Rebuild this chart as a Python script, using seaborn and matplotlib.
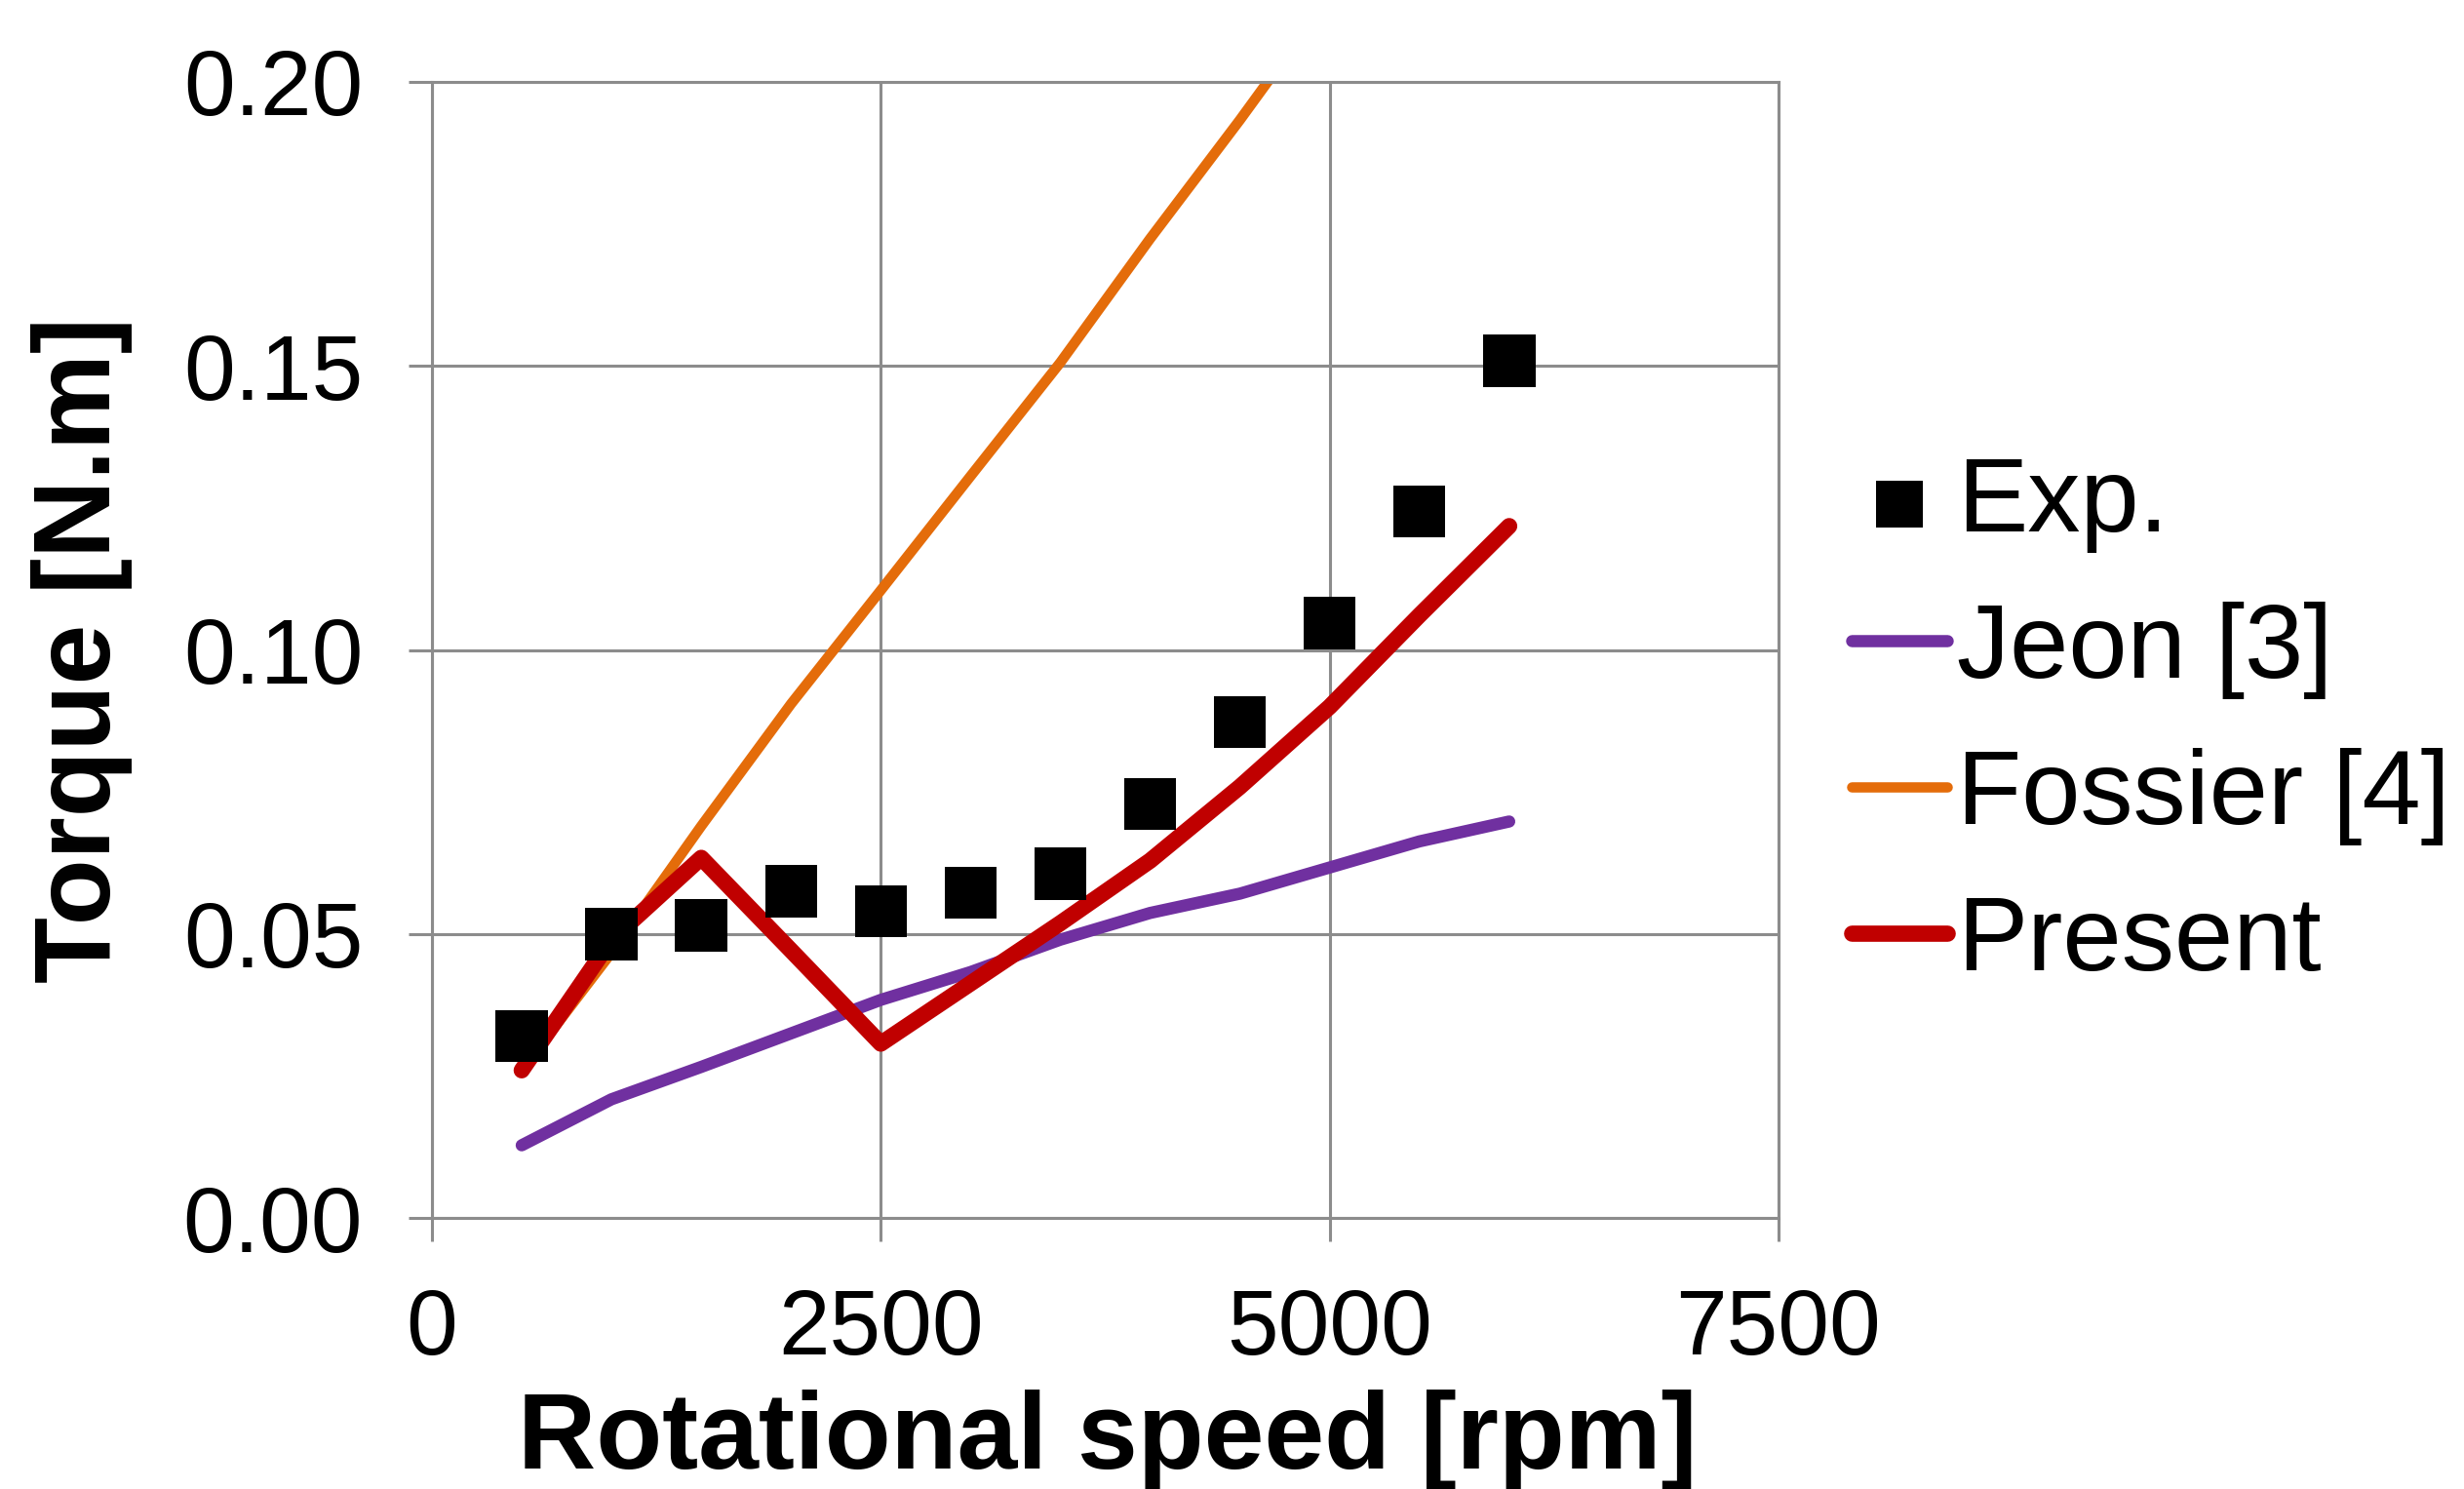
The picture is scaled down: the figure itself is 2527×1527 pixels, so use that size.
import matplotlib
matplotlib.use("Agg")
import matplotlib.pyplot as plt
import seaborn as sns

# values
rpm = [500, 1000, 1500, 2000, 2500, 3000, 3500, 4000, 4500, 5000, 5500, 6000]
exp_torque = [0.032, 0.050, 0.0515, 0.0575, 0.054, 0.0573, 0.0606, 0.0729, 0.0873, 0.1047, 0.1244, 0.1509]
jeon_torque = [0.0128, 0.0209, 0.0266, 0.0325, 0.0384, 0.0433, 0.0490, 0.0537, 0.0571, 0.0617, 0.0663, 0.0698]
present_torque = [0.026, 0.049, 0.0634, 0.0471, 0.0307, 0.0413, 0.0519, 0.0629, 0.0759, 0.0900, 0.1061, 0.1218]
fossier_rpm = [500, 1000, 1500, 2000, 2500, 3000, 3500, 4000, 4500, 5000]
fossier_torque = [0.026, 0.0467, 0.069, 0.0905, 0.1105, 0.1306, 0.1506, 0.1724, 0.1933, 0.215]

x_ticks = [0, 2500, 5000, 7500]
y_ticks = [0.00, 0.05, 0.10, 0.15, 0.20]

sns.set_theme(style="white")
plt.rcParams["font.family"] = ["Liberation Sans", "DejaVu Sans"]
plt.rcParams["text.color"] = "black"

GRID = "#8c8c8c"

fig = plt.figure(figsize=(12.635, 7.635), dpi=200)
ax = fig.add_axes([0.1753, 0.182, 0.7218 - 0.1753, 0.945 - 0.182])

sns.lineplot(x=rpm, y=jeon_torque, ax=ax, color="#7030A0", lw=4.5,
             solid_capstyle="round", label="Jeon [3]")
sns.lineplot(x=fossier_rpm, y=fossier_torque, ax=ax, color="#E46C0A", lw=3.8,
             solid_capstyle="round", label="Fossier [4]")
sns.lineplot(x=rpm, y=present_torque, ax=ax, color="#C00000", lw=6.0,
             solid_capstyle="round", label="Present")
sns.scatterplot(x=rpm, y=exp_torque, ax=ax, color="black", marker="s", s=370,
                edgecolor="none", label="Exp.", zorder=5)

ax.set_xlim(0, 7500)
ax.set_ylim(0, 0.20)
ax.set_xticks(x_ticks)
ax.set_yticks(y_ticks)
ax.set_yticklabels([f"{v:.2f}" for v in y_ticks])
ax.grid(True, color=GRID, lw=1.1)
for sp in ax.spines.values():
    sp.set_color(GRID)
    sp.set_linewidth(1.1)
ax.tick_params(axis="both", which="major", direction="out", length=8.5, width=1.1,
               color=GRID, labelsize=34, pad=17, labelcolor="black")
ax.tick_params(axis="both", bottom=True, left=True)

ax.set_xlabel("Rotational speed [rpm]", fontsize=40, fontweight="bold", color="black")
ax.set_ylabel("Torque [N.m]", fontsize=40, fontweight="bold", color="black")
ax.xaxis.set_label_coords(0.502, -0.151)
ax.yaxis.set_label_coords(-0.222, 0.5)

handles, labels = ax.get_legend_handles_labels()
order = [labels.index(n) for n in ["Exp.", "Jeon [3]", "Fossier [4]", "Present"]]
leg = ax.legend([handles[i] for i in order], [labels[i] for i in order],
                loc="center left", bbox_to_anchor=(0.7515, 0.514), bbox_transform=fig.transFigure,
                frameon=False, fontsize=39, handlelength=0.9, handletextpad=0.1,
                labelspacing=0.46, borderpad=0, borderaxespad=0, markerscale=0.9)
for t in leg.get_texts():
    t.set_color("black")

fig.savefig("out.png", dpi=200)
